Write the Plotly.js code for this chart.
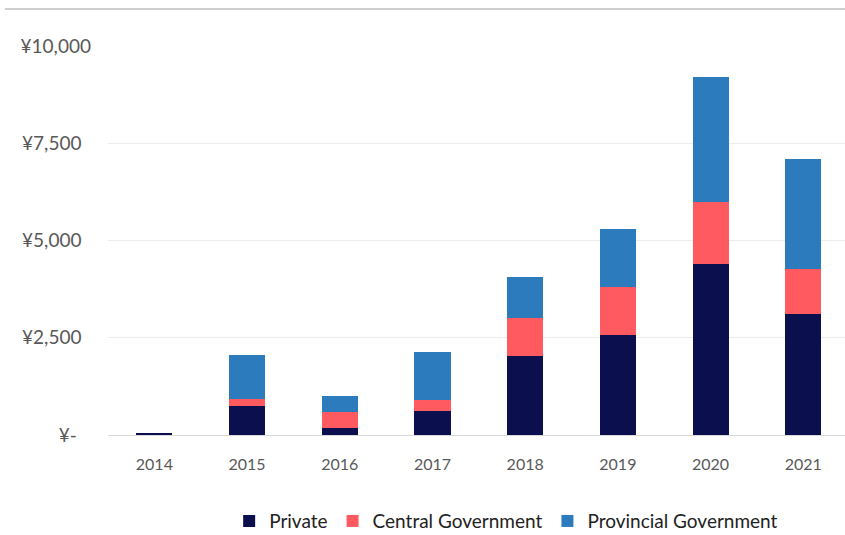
<!DOCTYPE html>
<html>
<head>
<meta charset="utf-8">
<script src="https://cdn.plot.ly/plotly-3.0.1.min.js"></script>
<style>html,body{margin:0;padding:0;background:#fff;}#chart{width:845px;height:535px;}</style>
</head>
<body>
<div id="chart"></div>
<script>
const years = ['2014','2015','2016','2017','2018','2019','2020','2021'];
const privateVals    = [40, 745, 190, 617, 2030, 2570, 4395, 3110];
const centralVals    = [0, 180, 410, 285, 970, 1240, 1600, 1150];
const provincialVals = [0, 1140, 405, 1220, 1070, 1480, 3200, 2830];
const yTickVals = [0, 2500, 5000, 7500, 10000];
const yTickText = ['¥-\u2003', '¥2,500\u2002', '¥5,000\u2002', '¥7,500\u2002', '¥10,000'];

const font = 'Lato, "Open Sans", sans-serif';
const traces = [
  {name: 'Private', y: privateVals, color: '#0b0f4e'},
  {name: 'Central Government', y: centralVals, color: '#ff5a5f'},
  {name: 'Provincial Government', y: provincialVals, color: '#2c7bbd'}
].map(s => ({
  type: 'bar', x: years, y: s.y, name: s.name,
  marker: {color: s.color, line: {width: 0}},
  hoverinfo: 'skip'
}));

const layout = {
  width: 845, height: 535,
  margin: {l: 108, r: 0, t: 46, b: 100, autoexpand: false},
  paper_bgcolor: '#ffffff', plot_bgcolor: '#ffffff',
  barmode: 'stack', bargap: 0.61,
  showlegend: true,
  legend: {orientation: 'h', xref: 'container', x: 0.599, xanchor: 'center',
    yref: 'container', y: 0.026, yanchor: 'middle',
    font: {family: font, size: 19, color: '#222222'}, traceorder: 'normal',
    itemwidth: 30, tracegroupgap: 0},
  xaxis: {
    type: 'category', range: [-0.5, 7.45],
    showgrid: false, showline: true, linecolor: '#d9d9d9', linewidth: 1,
    ticks: '', tickfont: {family: font, size: 16, color: '#595959'},
    ticklabelstandoff: 15, fixedrange: true
  },
  yaxis: {
    range: [0, 10000], tickvals: yTickVals, ticktext: yTickText,
    showgrid: true, gridcolor: '#ececec', gridwidth: 1, zeroline: false,
    showline: false, ticks: '',
    tickfont: {family: font, size: 19, color: '#595959'},
    ticklabelstandoff: 16, fixedrange: true
  },
  shapes: [
    {type: 'line', xref: 'paper', yref: 'paper', x0: -0.14, x1: 1, y0: 1.095, y1: 1.095,
     line: {color: '#cfcfcf', width: 2}}
  ]
};

Plotly.newPlot('chart', traces, layout, {displayModeBar: false, staticPlot: true});
</script>
</body>
</html>
